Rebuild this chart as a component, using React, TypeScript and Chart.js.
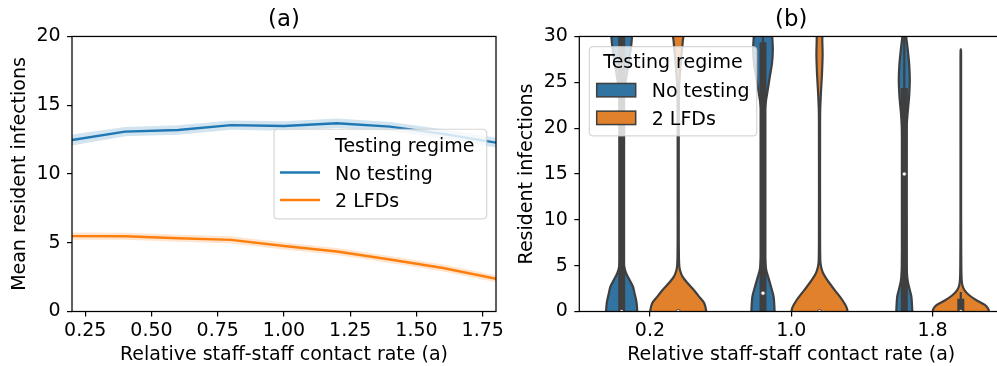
import React, { useEffect, useRef } from "react";
import { Chart, registerables } from "chart.js";

Chart.register(...registerables);

// ---------------- Panel (a) data ----------------
const CONTACT_RATES = [0.2, 0.4, 0.6, 0.8, 1.0, 1.2, 1.4, 1.6, 1.8];
const NO_TESTING_MEAN = [12.47, 13.08, 13.2, 13.55, 13.49, 13.69, 13.44, 12.92, 12.28];
const NO_TESTING_LOW = [12.07, 12.74, 12.86, 13.21, 13.15, 13.34, 13.1, 12.58, 11.93];
const NO_TESTING_HIGH = [12.87, 13.42, 13.54, 13.89, 13.83, 14.04, 13.78, 13.26, 12.63];
const LFD_MEAN = [5.48, 5.47, 5.33, 5.21, 4.76, 4.36, 3.78, 3.16, 2.38];
const LFD_LOW = [5.22, 5.21, 5.07, 4.95, 4.5, 4.1, 3.53, 2.91, 2.13];
const LFD_HIGH = [5.74, 5.73, 5.59, 5.47, 5.02, 4.62, 4.03, 3.41, 2.63];
const A_X_TICKS = [0.25, 0.5, 0.75, 1.0, 1.25, 1.5, 1.75];
const A_X_LABELS = ["0.25", "0.50", "0.75", "1.00", "1.25", "1.50", "1.75"];
const A_Y_TICKS = [0, 5, 10, 15, 20];
const SERIES = ["No testing", "2 LFDs"];
const LEGEND_TITLE = "Testing regime";

// ---------------- Panel (b) data ----------------
const B_CATEGORIES = ["0.2", "1.0", "1.8"];
const B_X_TICKS = [0, 1, 2];
const B_Y_TICKS = [0, 5, 10, 15, 20, 25, 30];

// violin profiles: [resident infections, relative density (1 = widest)]
const NT_DENSITY_02: [number, number][] = [
  [-1, 0.56], [0, 0.553], [1, 0.525], [2, 0.454], [2.7, 0.4], [3.4, 0.284], [4.2, 0.152],
  [5, 0.082], [6, 0.04], [8, 0.025], [12, 0.02], [16, 0.02], [20, 0.025], [22, 0.035],
  [23, 0.053], [24, 0.089], [25, 0.135], [26, 0.188], [27, 0.241], [28, 0.294], [29, 0.337],
  [30, 0.365], [31, 0.383],
];
const NT_DENSITY_10: [number, number][] = [
  [-1, 0.415], [0, 0.411], [1.6, 0.376], [2.7, 0.284], [3.8, 0.181], [4.5, 0.117], [5.3, 0.082],
  [7, 0.046], [10, 0.028], [20, 0.028], [22, 0.064], [23.2, 0.117], [24.2, 0.17], [25.6, 0.241],
  [27.1, 0.319], [28.5, 0.348], [29.8, 0.33], [31, 0.294],
];
const NT_DENSITY_18: [number, number][] = [
  [-1, 0.287], [0, 0.284], [1.6, 0.252], [2.3, 0.199], [3.1, 0.135], [3.8, 0.103], [5, 0.082],
  [10, 0.074], [15, 0.074], [20, 0.082], [21.6, 0.117], [23.4, 0.17], [25.3, 0.195], [27.1, 0.17],
  [28.9, 0.11], [29.8, 0.074], [31, 0.046],
];
const LFD_DENSITY_02: [number, number][] = [
  [-1, 0.993], [0, 0.993], [0.9, 0.922], [1.6, 0.745], [2.3, 0.567], [3.1, 0.33], [3.8, 0.152],
  [4.5, 0.064], [5.1, 0.035], [6, 0.025], [8, 0.02], [12, 0.02], [20, 0.02], [24, 0.028],
  [26, 0.064], [28, 0.117], [29.5, 0.163], [31, 0.188],
];
const LFD_DENSITY_10: [number, number][] = [
  [-1, 0.993], [0, 0.993], [0.5, 0.95], [1.2, 0.819], [2, 0.624], [2.7, 0.447], [3.5, 0.259],
  [4.2, 0.124], [4.9, 0.053], [5.6, 0.028], [8, 0.02], [20, 0.02], [22, 0.025], [24, 0.053],
  [26, 0.089], [28, 0.11], [29.5, 0.099], [31, 0.082],
];
const LFD_DENSITY_18: [number, number][] = [
  [-1, 0.995], [0, 0.995], [0.35, 0.96], [0.7, 0.862], [1.2, 0.567], [1.8, 0.287], [2.3, 0.135],
  [2.9, 0.053], [3.6, 0.028], [5, 0.018], [10, 0.011], [27, 0.011], [28.4, 0.008], [28.6, 0],
];
const NT_MEDIAN = [0, 2, 15];
const NT_Q1 = [0, 0, 0];
const NT_Q3 = [32, 29, 24];
const NT_WHISKER_HIGH = [33, 33, 33];
const LFD_MEDIAN = [0, 0, 0];
const LFD_Q1 = [0, 0, 0];
const LFD_Q3 = [0, 0, 1];
const LFD_WHISKER_HIGH = [0, 0, 2];

// ---------------- styles ----------------
const FONT = '"DejaVu Sans", "Liberation Sans", sans-serif';
const FS = 19;
const TITLE_FS = 22.8;
const LINE_COLORS = ["#1f77b4", "#ff7f0e"];
const BAND_COLORS = ["rgba(31,119,180,0.2)", "rgba(255,127,14,0.2)"];
const VIOLIN_COLORS = ["#3274a1", "#e1812c"];
const GRAY = "#3f3f3f";
const HUE_OFFSET = 0.2;
const MAX_HALF = 0.2;

function roundRect(ctx: CanvasRenderingContext2D, x: number, y: number, w: number, h: number, r: number) {
  ctx.beginPath();
  ctx.moveTo(x + r, y);
  ctx.lineTo(x + w - r, y);
  ctx.quadraticCurveTo(x + w, y, x + w, y + r);
  ctx.lineTo(x + w, y + h - r);
  ctx.quadraticCurveTo(x + w, y + h, x + w - r, y + h);
  ctx.lineTo(x + r, y + h);
  ctx.quadraticCurveTo(x, y + h, x, y + h - r);
  ctx.lineTo(x, y + r);
  ctx.quadraticCurveTo(x, y, x + r, y);
  ctx.closePath();
}

const spinesPlugin = {
  id: "spines",
  afterDatasetsDraw(chart: any) {
    const { ctx, chartArea: a } = chart;
    ctx.save();
    ctx.strokeStyle = "#000";
    ctx.lineWidth = 1.25;
    ctx.strokeRect(a.left, a.top, a.right - a.left, a.bottom - a.top);
    ctx.restore();
  },
};

function legendFrame(ctx: CanvasRenderingContext2D, x: number, y: number, w: number, h: number) {
  roundRect(ctx, x, y, w, h, 4);
  ctx.fillStyle = "rgba(255,255,255,0.8)";
  ctx.fill();
  ctx.strokeStyle = "rgba(204,204,204,0.8)";
  ctx.lineWidth = 1.2;
  ctx.stroke();
}

const legendAPlugin = {
  id: "legendA",
  afterDatasetsDraw(chart: any) {
    const { ctx, chartArea: a } = chart;
    const x = a.right - 222;
    const y = a.top + 92.8;
    ctx.save();
    legendFrame(ctx, x, y, 212.7, 89.7);
    ctx.font = `${FS}px ${FONT}`;
    ctx.fillStyle = "#000";
    ctx.textAlign = "left";
    ctx.textBaseline = "alphabetic";
    ctx.fillText(LEGEND_TITLE, x + 61, y + 22.4);
    SERIES.forEach((name, i) => {
      const by = y + 50.7 + i * 27.5;
      ctx.strokeStyle = LINE_COLORS[i];
      ctx.lineWidth = 2.4;
      ctx.beginPath();
      ctx.moveTo(x + 6, by - 7.5);
      ctx.lineTo(x + 46, by - 7.5);
      ctx.stroke();
      ctx.fillText(name, x + 61, by);
    });
    ctx.restore();
  },
};

const legendBPlugin = {
  id: "legendB",
  afterDatasetsDraw(chart: any) {
    const { ctx, chartArea: a } = chart;
    const x = a.left + 10;
    const y = a.top + 10.2;
    const w = 167.4;
    ctx.save();
    legendFrame(ctx, x, y, w, 89.3);
    ctx.font = `${FS}px ${FONT}`;
    ctx.fillStyle = "#000";
    ctx.textBaseline = "alphabetic";
    ctx.textAlign = "center";
    ctx.fillText(LEGEND_TITLE, x + w / 2, y + 21.6);
    ctx.textAlign = "left";
    SERIES.forEach((name, i) => {
      const by = y + 50.6 + i * 27.7;
      ctx.fillStyle = VIOLIN_COLORS[i];
      ctx.fillRect(x + 7.4, by - 13.8, 39, 13.4);
      ctx.strokeStyle = GRAY;
      ctx.lineWidth = 1.5;
      ctx.strokeRect(x + 7.4, by - 13.8, 39, 13.4);
      ctx.fillStyle = "#000";
      ctx.fillText(name, x + 62.4, by);
    });
    ctx.restore();
  },
};

function axisFont() {
  return { family: FONT, size: FS };
}

function yAxis(ticks: number[], title: string, width: number, max: number) {
  return {
    type: "linear",
    min: 0,
    max,
    afterBuildTicks: (s: any) => {
      s.ticks = ticks.map((v) => ({ value: v }));
    },
    afterFit: (s: any) => {
      s.width = width;
    },
    border: { display: false },
    grid: { drawOnChartArea: false, drawTicks: true, tickLength: 5, color: "#000", lineWidth: 1.2 },
    ticks: { font: axisFont(), color: "#000", padding: 6.4, autoSkip: false },
    title: { display: true, text: title, font: axisFont(), color: "#000", padding: { top: 8.7, bottom: 0 } },
  };
}

function xAxis(min: number, max: number, ticks: number[], labels: string[]) {
  return {
    type: "linear",
    min,
    max,
    afterBuildTicks: (s: any) => {
      s.ticks = ticks.map((v) => ({ value: v }));
    },
    afterFit: (s: any) => {
      s.height = 54.5;
    },
    border: { display: false },
    grid: { drawOnChartArea: false, drawTicks: true, tickLength: 5, color: "#000", lineWidth: 1.2 },
    ticks: {
      font: axisFont(),
      color: "#000",
      padding: 3.5,
      autoSkip: false,
      maxRotation: 0,
      callback: (_v: any, i: number) => labels[i],
    },
    title: {
      display: true,
      text: "Relative staff-staff contact rate (a)",
      font: axisFont(),
      color: "#000",
      padding: { top: 0, bottom: 0 },
    },
  };
}

function titleOpts(text: string) {
  return {
    display: true,
    text,
    fullSize: false,
    font: { family: FONT, size: TITLE_FS, weight: "normal", lineHeight: 1.2 },
    color: "#000",
    padding: { top: 6.4, bottom: 2.7 },
  };
}

function pts(xs: number[], ys: number[]) {
  return xs.map((x, i) => ({ x, y: ys[i] }));
}

function outline(center: number, prof: [number, number][]) {
  const right = prof.map(([v, d]) => ({ x: center + d * MAX_HALF, y: v }));
  const left = prof
    .slice()
    .reverse()
    .map(([v, d]) => ({ x: center - d * MAX_HALF, y: v }));
  return [...right, ...left, right[0]];
}

function buildB() {
  const hues = [
    {
      color: VIOLIN_COLORS[0],
      dens: [NT_DENSITY_02, NT_DENSITY_10, NT_DENSITY_18],
      med: NT_MEDIAN,
      q1: NT_Q1,
      q3: NT_Q3,
      wh: NT_WHISKER_HIGH,
      offset: -HUE_OFFSET,
    },
    {
      color: VIOLIN_COLORS[1],
      dens: [LFD_DENSITY_02, LFD_DENSITY_10, LFD_DENSITY_18],
      med: LFD_MEDIAN,
      q1: LFD_Q1,
      q3: LFD_Q3,
      wh: LFD_WHISKER_HIGH,
      offset: HUE_OFFSET,
    },
  ];
  const ds: any[] = [];
  hues.forEach((h) => {
    B_X_TICKS.forEach((cat, i) => {
      const c = cat + h.offset;
      ds.push({
        type: "line",
        data: outline(c, h.dens[i]),
        fill: "shape",
        backgroundColor: h.color,
        borderColor: GRAY,
        borderWidth: 2.2,
        borderJoinStyle: "round",
        pointRadius: 0,
        tension: 0.3,
        clip: 0,
        order: 4,
      });
      if (h.wh[i] > h.q3[i]) {
        ds.push({
          type: "line",
          data: [{ x: c, y: h.q1[i] }, { x: c, y: h.wh[i] }],
          fill: false,
          borderColor: GRAY,
          borderWidth: 2.2,
          borderCapStyle: "square",
          pointRadius: 0,
          clip: 0,
          order: 3,
        });
      }
      if (h.q3[i] > h.q1[i]) {
        ds.push({
          type: "line",
          data: [{ x: c, y: h.q1[i] }, { x: c, y: h.q3[i] }],
          fill: false,
          borderColor: GRAY,
          borderWidth: 7,
          borderCapStyle: "square",
          pointRadius: 0,
          clip: 0,
          order: 2,
        });
      }
      ds.push({
        type: "line",
        data: [{ x: c, y: h.med[i] }],
        showLine: false,
        pointRadius: 2.1,
        pointBackgroundColor: "#fff",
        pointBorderColor: GRAY,
        pointBorderWidth: 0.8,
        clip: 0,
        order: 1,
      });
    });
  });
  return ds;
}

export default function App() {
  const refA = useRef<HTMLCanvasElement>(null);
  const refB = useRef<HTMLCanvasElement>(null);

  useEffect(() => {
    const common = {
      responsive: false,
      animation: false as const,
      devicePixelRatio: 1,
      events: [] as any[],
    };
    const chartA = new Chart(refA.current as HTMLCanvasElement, {
      type: "line",
      data: {
        datasets: [
          {
            label: SERIES[0],
            data: pts(CONTACT_RATES, NO_TESTING_MEAN),
            borderColor: LINE_COLORS[0],
            borderWidth: 2.4,
            pointRadius: 0,
            fill: false,
            tension: 0,
          },
          {
            label: SERIES[1],
            data: pts(CONTACT_RATES, LFD_MEAN),
            borderColor: LINE_COLORS[1],
            borderWidth: 2.4,
            pointRadius: 0,
            fill: false,
            tension: 0,
          },
          {
            data: pts(CONTACT_RATES, NO_TESTING_HIGH),
            borderWidth: 0,
            pointRadius: 0,
            fill: "+1",
            backgroundColor: BAND_COLORS[0],
          },
          { data: pts(CONTACT_RATES, NO_TESTING_LOW), borderWidth: 0, pointRadius: 0, fill: false },
          {
            data: pts(CONTACT_RATES, LFD_HIGH),
            borderWidth: 0,
            pointRadius: 0,
            fill: "+1",
            backgroundColor: BAND_COLORS[1],
          },
          { data: pts(CONTACT_RATES, LFD_LOW), borderWidth: 0, pointRadius: 0, fill: false },
        ] as any,
      },
      options: {
        ...common,
        layout: { padding: { left: 0, right: 24, top: 0, bottom: 0 }, autoPadding: false },
        elements: { line: { capBezierPoints: false } },
        scales: {
          x: xAxis(0.2, 1.8, A_X_TICKS, A_X_LABELS) as any,
          y: yAxis(A_Y_TICKS, "Mean resident infections", 72, 20) as any,
        },
        plugins: {
          legend: { display: false },
          tooltip: { enabled: false },
          title: titleOpts("(a)") as any,
        },
      },
      plugins: [spinesPlugin, legendAPlugin],
    });

    const chartB = new Chart(refB.current as HTMLCanvasElement, {
      type: "line",
      data: { datasets: buildB() },
      options: {
        ...common,
        layout: { padding: { left: 0, right: 23.8, top: 0, bottom: 0 }, autoPadding: false },
        elements: { line: { capBezierPoints: false } },
        scales: {
          x: xAxis(-0.5, 2.5, B_X_TICKS, B_CATEGORIES) as any,
          y: yAxis(B_Y_TICKS, "Resident infections", 72.3, 30) as any,
        },
        plugins: {
          legend: { display: false },
          tooltip: { enabled: false },
          title: titleOpts("(b)") as any,
        },
      },
      plugins: [spinesPlugin, legendBPlugin],
    });

    return () => {
      chartA.destroy();
      chartB.destroy();
    };
  }, []);

  return (
    <div
      style={{
        position: "fixed",
        left: 0,
        top: 0,
        width: 997,
        height: 366,
        overflow: "hidden",
        background: "#fff",
      }}
    >
      <canvas
        ref={refA}
        width={520}
        height={366}
        style={{ position: "absolute", left: 0, top: 0, width: 520, height: 366 }}
      />
      <canvas
        ref={refB}
        width={520}
        height={366}
        style={{ position: "absolute", left: 507, top: 0, width: 520, height: 366 }}
      />
    </div>
  );
}
